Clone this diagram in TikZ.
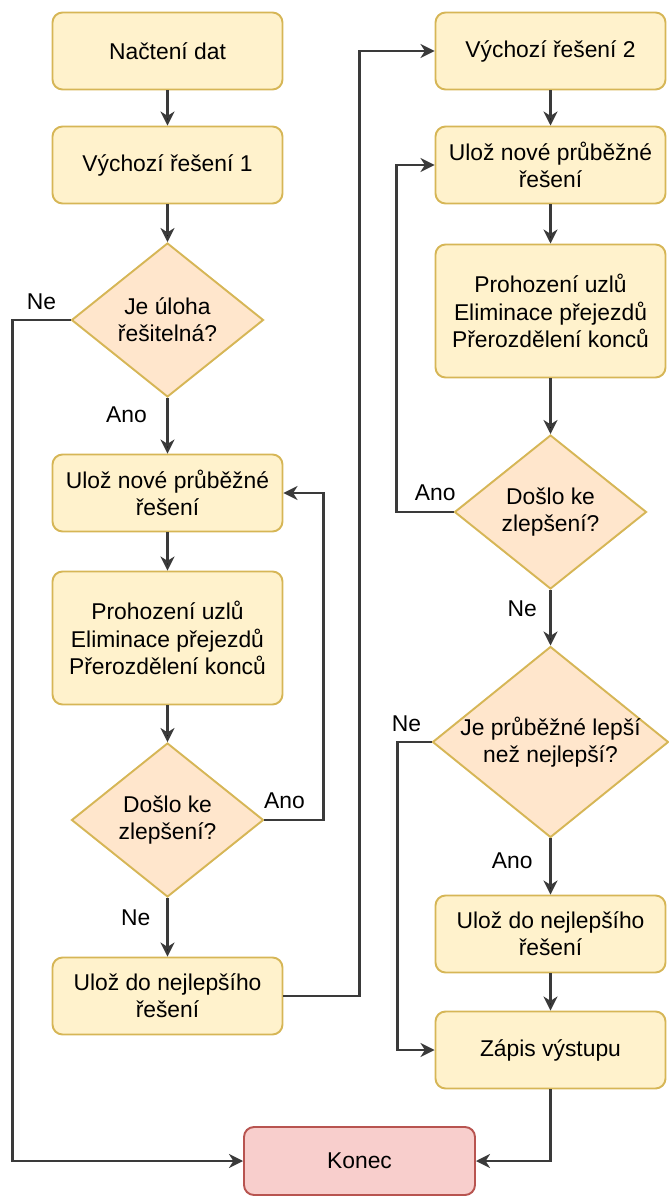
\documentclass[tikz,border=0pt]{standalone}
\usepackage{fontspec}
\setmainfont{Liberation Sans}
\usepackage{tikz}
\usetikzlibrary{shapes.geometric}
\usetikzlibrary{arrows.meta,arrows}
\usetikzlibrary{positioning}
\definecolor{boxfill}{HTML}{FFF2CC}
\definecolor{boxline}{HTML}{D6B656}
\definecolor{askfill}{HTML}{FFE6CC}
\definecolor{endfill}{HTML}{F8CECC}
\definecolor{endline}{HTML}{B85450}
\definecolor{wire}{HTML}{3A3A3A}

\begin{document}
\begin{tikzpicture}[>={Stealth[length=8pt,width=8pt,inset=2.5pt]},line width=1.1pt,auto,
  font=\fontsize{13pt}{15.5pt}\selectfont]
 \tikzstyle{step node}=[rectangle,rounded corners=0.2cm,draw=boxline,fill=boxfill,minimum width=4.6cm,minimum height=1.54cm,align=center,inner sep=1]
 \tikzstyle{big step node}=[step node,minimum height=2.66cm]
 \tikzset{
 	ask node/.style={diamond,shape aspect=1.25,draw=boxline,fill=askfill,minimum width=3.84cm,minimum height=3.08cm,align=center,inner sep=0},
 	wide ask node/.style={ask node,minimum width=4.72cm,minimum height=3.82cm,inner sep=-3pt},
 	end node/.style={rectangle,rounded corners=0.2cm,draw=endline,fill=endfill,minimum width=4.62cm,minimum height=1.36cm},
 	flow/.style={->,draw=wire,line width=1.5pt},
 	tag/.style={inner sep=1pt}
 }

       \useasboundingbox (0,0) rectangle (13.36,-24);

       \node[step node] (load) at (3.35,-1.02) {Načtení dat};
       \node[step node] (init1) [node distance=2.28cm,below of=load] {Výchozí řešení 1};
       \node[ask node] (solv) [node distance=3.1cm,below of=init1] {Je úloha\\řešitelná?};
       \node[step node] (save1) [node distance=3.46cm,below of=solv] {Ulož nové průběžné\\řešení};
       \node[big step node] (moves1) [node distance=2.9cm,below of=save1] {Prohození uzlů\\Eliminace přejezdů\\Přerozdělení konců};
       \node[ask node] (better1) [node distance=3.64cm,below of=moves1] {Došlo ke\\zlepšení?};
       \node[step node] (best1) [node distance=3.52cm,below of=better1] {Ulož do nejlepšího\\řešení};

       \node[step node] (init2) [node distance=7.66cm,right of=load] {Výchozí řešení 2};
       \node[step node] (save2) [node distance=2.28cm,below of=init2] {Ulož nové průběžné\\řešení};
       \node[big step node] (moves2) [node distance=2.92cm,below of=save2] {Prohození uzlů\\Eliminace přejezdů\\Přerozdělení konců};
       \node[ask node] (better2) [node distance=4.02cm,below of=moves2] {Došlo ke\\zlepšení?};
       \node[wide ask node] (cmp) [node distance=4.6cm,below of=better2] {Je průběžné lepší\\než nejlepší?};
       \node[step node] (best2) [node distance=3.84cm,below of=cmp] {Ulož do nejlepšího\\řešení};
       \node[step node] (out) [node distance=2.32cm,below of=best2] {Zápis výstupu};

       \node[end node] (end) at (7.19,-23.22) {Konec};

     \path[flow]  (load) edge (init1);
     \path[flow]  (init1) edge (solv);
     \path[flow]  (solv) edge node[tag,left=10pt,pos=0.3] {Ano} (save1);
     \path[flow]  (save1) edge (moves1);
     \path[flow]  (moves1) edge (better1);
     \path[flow]  (better1) edge node[tag,left=8pt,pos=0.33] {Ne} (best1);

     \path[flow]  (init2) edge (save2);
     \path[flow]  (save2) edge (moves2);
     \path[flow]  (moves2) edge (better2);
     \path[flow]  (better2) edge node[tag,left=6pt,pos=0.34] {Ne} (cmp);
     \path[flow]  (cmp) edge node[tag,left=8.5pt,pos=0.39] {Ano} (best2);
     \path[flow]  (best2) edge (out);

     \draw[flow] (solv.west) -- ++(-1.16,0) node[tag,above=4pt,pos=0.5] {Ne} |- (end);
     \draw[flow] (better1.east) -- ++(1.18,0) node[tag,above=4.5pt,pos=0.34] {Ano} |- (save1);
     \draw[flow] (best1.east) -- ++(1.52,0) |- (init2);
     \draw[flow] (better2.west) -- ++(-1.14,0) node[tag,above=4.5pt,pos=0.32] {Ano} |- (save2);
     \draw[flow] (cmp.west) -- ++(-0.68,0) node[tag,above=4pt,pos=0.74] {Ne} |- (out);
     \draw[flow] (out) |- (end);
 \end{tikzpicture}
\end{document}
